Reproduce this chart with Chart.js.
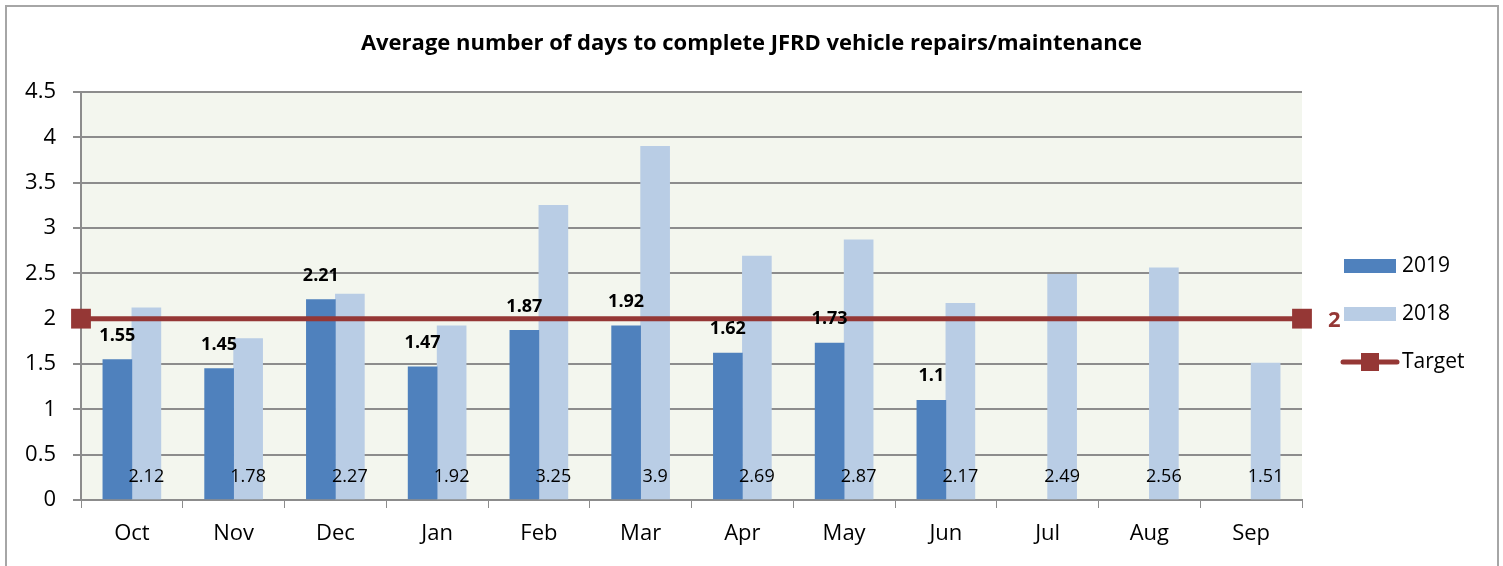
<!DOCTYPE html>
<html>
<head>
<meta charset="utf-8">
<script src="https://cdn.jsdelivr.net/npm/chart.js@4/dist/chart.umd.min.js"></script>
<style>
  html, body { margin: 0; padding: 0; background: #fff; overflow: hidden; }
  #frame { position: absolute; left: 5px; top: 5px; width: 1490px; height: 600px; border: 2px solid #a6a6a6; }
  #wrap { position: absolute; left: 0; top: 0; width: 1503px; height: 566px; }
</style>
</head>
<body>
<div id="frame"></div>
<div id="wrap"><canvas id="repairs"></canvas></div>
<script>
const months = ["Oct", "Nov", "Dec", "Jan", "Feb", "Mar", "Apr", "May", "Jun", "Jul", "Aug", "Sep"];
const values2019 = [1.55, 1.45, 2.21, 1.47, 1.87, 1.92, 1.62, 1.73, 1.1, null, null, null];
const values2018 = [2.12, 1.78, 2.27, 1.92, 3.25, 3.9, 2.69, 2.87, 2.17, 2.49, 2.56, 1.51];
const targetValue = 2;
const targetSpan = [0, 1];
const yTicks = [0, 0.5, 1, 1.5, 2, 2.5, 3, 3.5, 4, 4.5];
const title = "Average number of days to complete JFRD vehicle repairs/maintenance";

const FONT = "'Open Sans', Lato, sans-serif";

// plot area background + title
const plotBg = {
    id: "plotBg",
    beforeDraw(chart) {
        const { ctx, chartArea: a } = chart;
        ctx.save();
        ctx.fillStyle = "#f3f6ee";
        ctx.fillRect(a.left, a.top, a.right - a.left, a.bottom - a.top);
        ctx.font = "bold 22px " + FONT;
        ctx.fillStyle = "#000";
        ctx.textAlign = "center";
        ctx.textBaseline = "middle";
        ctx.fillText(title, chart.width / 2, 44);
        ctx.restore();
    }
};

// value labels + target label
const valueLabels = {
    id: "valueLabels",
    afterDatasetsDraw(chart) {
        const ctx = chart.ctx;
        const y0 = chart.scales.y.getPixelForValue(0);
        ctx.save();
        ctx.textAlign = "center";
        ctx.textBaseline = "middle";

        ctx.font = "bold 18px " + FONT;
        ctx.fillStyle = "#000";
        chart.getDatasetMeta(1).data.forEach((bar, i) => {
            if (values2019[i] == null) return;
            ctx.fillText(String(values2019[i]), bar.x, bar.y - 24);
        });

        ctx.font = "18px " + FONT;
        chart.getDatasetMeta(2).data.forEach((bar, i) => {
            ctx.fillText(String(values2018[i]), bar.x, y0 - 23);
        });

        const last = chart.getDatasetMeta(0).data[1];
        ctx.font = "bold 22px " + FONT;
        ctx.fillStyle = "#953735";
        ctx.textAlign = "left";
        ctx.fillText(String(targetValue), last.x + 26, last.y + 2);
        ctx.restore();
    }
};

// legend on the right
const sideLegend = {
    id: "sideLegend",
    afterDraw(chart) {
        const ctx = chart.ctx;
        const x = chart.chartArea.right + 42;
        const items = chart.data.datasets.slice(1).concat(chart.data.datasets[0]);
        ctx.save();
        ctx.font = "21px " + FONT;
        ctx.textBaseline = "middle";
        items.forEach((ds, i) => {
            const y = 266 + i * 48;
            if (ds.type === "line") {
                ctx.strokeStyle = ds.borderColor;
                ctx.lineWidth = 5;
                ctx.lineCap = "round";
                ctx.beginPath();
                ctx.moveTo(x - 1, y);
                ctx.lineTo(x + 53, y);
                ctx.stroke();
                ctx.fillStyle = ds.pointBackgroundColor;
                ctx.fillRect(x + 17, y - 9, 18, 18);
            } else {
                ctx.fillStyle = ds.backgroundColor;
                ctx.fillRect(x, y - 7, 52, 14);
            }
            ctx.fillStyle = "#000";
            ctx.fillText(ds.label, x + 58, y);
        });
        ctx.restore();
    }
};

new Chart(document.getElementById("repairs"), {
    type: "bar",
    data: {
        labels: months,
        datasets: [
            {
                type: "line",
                label: "Target",
                data: targetSpan.map(x => ({ x: x, y: targetValue })),
                xAxisID: "x2",
                borderColor: "#953735",
                borderWidth: 5,
                pointStyle: "rect",
                pointRadius: 14,
                pointHoverRadius: 14,
                pointBackgroundColor: "#953735",
                pointBorderColor: "#953735",
                pointBorderWidth: 0,
                clip: false,
                order: 0
            },
            {
                label: "2019",
                data: values2019,
                backgroundColor: "#4f81bd",
                barThickness: 29,
                order: 1
            },
            {
                label: "2018",
                data: values2018,
                backgroundColor: "#b9cde5",
                barThickness: 29,
                order: 1
            }
        ]
    },
    options: {
        responsive: true,
        maintainAspectRatio: false,
        animation: false,
        layout: { padding: { left: 0, right: 201, top: 92, bottom: 0 } },
        plugins: {
            legend: { display: false },
            tooltip: { enabled: false }
        },
        scales: {
            x: {
                offset: true,
                grid: { display: true, drawOnChartArea: false, drawTicks: true, tickLength: 8, color: "#8c8c8c", offset: true },
                border: { display: true, color: "#8c8c8c", width: 2 },
                ticks: { color: "#000", font: { family: FONT, size: 22 }, padding: 13 },
                afterFit(axis) { axis.height = 66; }
            },
            x2: {
                type: "linear",
                min: 0,
                max: 1,
                offset: false,
                grid: { offset: false },
                display: false
            },
            y: {
                min: 0,
                max: 4.5,
                afterBuildTicks(axis) { axis.ticks = yTicks.map(v => ({ value: v })); },
                grid: { color: "#8c8c8c", lineWidth: 2, tickLength: 8, drawTicks: true },
                border: { display: true, color: "#8c8c8c", width: 2 },
                ticks: { color: "#000", font: { family: FONT, size: 22 }, padding: 17, callback: v => String(v) },
                afterFit(axis) { axis.width = 81; }
            }
        }
    },
    plugins: [plotBg, valueLabels, sideLegend]
});
</script>
</body>
</html>
